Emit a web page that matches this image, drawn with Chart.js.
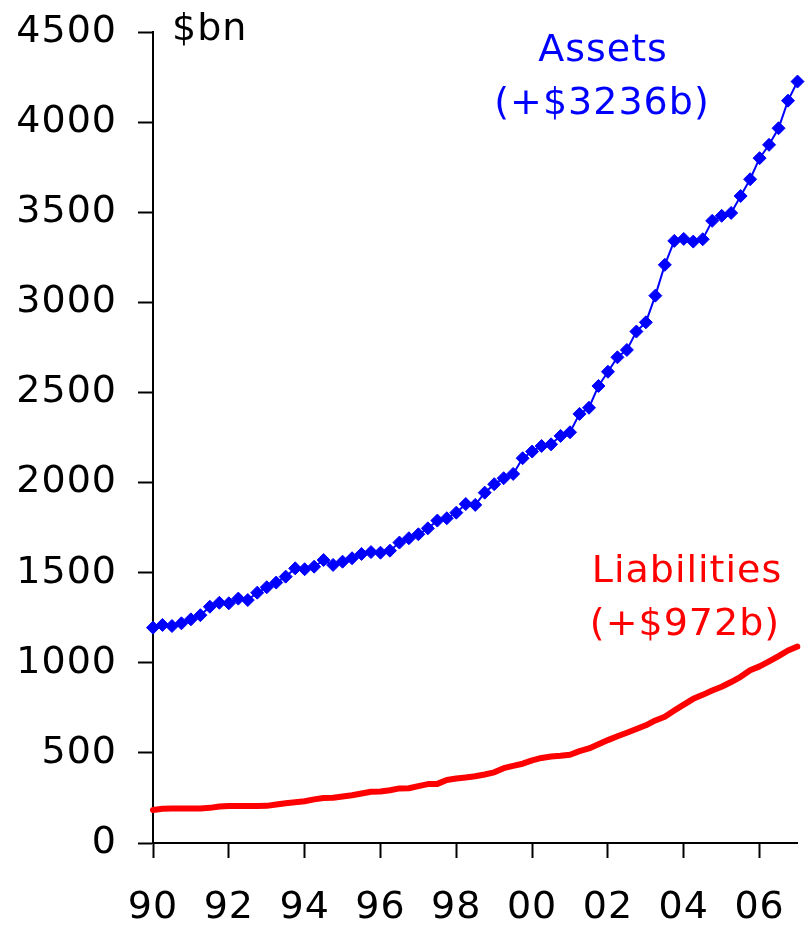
<!DOCTYPE html>
<html>
<head>
<meta charset="utf-8">
<script src="https://cdn.jsdelivr.net/npm/chart.js@4/dist/chart.umd.min.js"></script>
<style>
  html, body { margin: 0; padding: 0; background: #ffffff; }
  canvas { display: block; }
</style>
</head>
<body>
<canvas id="chart" width="805" height="926"></canvas>
<script>
// Quarterly balance sheet, 1990 Q1 – 2007 Q1, $bn
const years = [1990, 1991, 1992, 1993, 1994, 1995, 1996, 1997, 1998,
               1999, 2000, 2001, 2002, 2003, 2004, 2005, 2006, 2007];
const quarterNames = ['Q1', 'Q2', 'Q3', 'Q4'];

const assets = [
  1195, 1210, 1204, 1219, 1241, 1264, 1311, 1333,
  1330, 1356, 1348, 1389, 1419, 1445, 1478, 1524,
  1519, 1533, 1570, 1543, 1561, 1580, 1604, 1614,
  1611, 1622, 1667, 1691, 1713, 1746, 1789, 1802,
  1833, 1881, 1876, 1944, 1991, 2024, 2048, 2135,
  2172, 2203, 2212, 2259, 2279, 2381, 2415, 2536,
  2615, 2695, 2736, 2838, 2889, 3037, 3208, 3341,
  3352, 3337, 3350, 3452, 3480, 3496, 3590, 3683,
  3800, 3874, 3966, 4119, 4225
];

const liabilities = [
  183, 190, 191, 191, 192, 192, 195, 203,
  205, 205, 205, 205, 206, 214, 221, 226,
  232, 242, 250, 251, 258, 265, 275, 284,
  286, 293, 303, 304, 316, 327, 328, 350,
  358, 364, 370, 380, 392, 415, 428, 440,
  458, 472, 480, 484, 490, 510, 525, 548,
  571, 592, 612, 633, 653, 680, 701, 735,
  768, 800, 822, 846, 867, 893, 922, 958,
  980, 1008, 1037, 1068, 1090
];

const xTickLabels = ['90', '92', '94', '96', '98', '00', '02', '04', '06'];
const yTicks = { min: 0, max: 4500, step: 500 };

const quarterLabels = years
  .flatMap(y => quarterNames.map(q => y + ' ' + q))
  .slice(0, assets.length);

const FONT = 'DejaVu Sans';
const FONT_SIZE = 38;
const SPACING = '1px';

// Slightly wider tracking for all canvas text
const tracking = {
  id: 'tracking',
  beforeUpdate(chart) { chart.ctx.letterSpacing = SPACING; },
  beforeDraw(chart) { chart.ctx.letterSpacing = SPACING; }
};

// Unit caption and series captions
const captions = {
  id: 'captions',
  afterDraw(chart) {
    const ctx = chart.ctx;
    ctx.save();
    ctx.letterSpacing = SPACING;
    ctx.font = FONT_SIZE + 'px "' + FONT + '"';
    ctx.textBaseline = 'middle';

    ctx.fillStyle = '#000000';
    ctx.textAlign = 'left';
    ctx.fillText('$bn', 172, 30);

    ctx.textAlign = 'center';
    ctx.fillStyle = '#0000ff';
    ctx.fillText('Assets', 603, 51);
    ctx.fillText('(+$3236b)', 602, 104);

    ctx.fillStyle = '#ff0000';
    ctx.fillText('Liabilities', 687, 572);
    ctx.fillText('(+$972b)', 685, 625);
    ctx.restore();
  }
};

new Chart(document.getElementById('chart'), {
  type: 'line',
  data: {
    labels: quarterLabels,
    datasets: [
      {
        label: 'Liabilities',
        data: liabilities,
        borderColor: '#ff0000',
        borderWidth: 6,
        pointRadius: 0,
        tension: 0,
        borderJoinStyle: 'round',
        borderCapStyle: 'round',
        fill: false
      },
      {
        label: 'Assets',
        data: assets,
        borderColor: '#0000ff',
        backgroundColor: '#0000ff',
        borderWidth: 2,
        pointStyle: 'rectRot',
        pointRadius: 6.5,
        pointBorderWidth: 1,
        pointBackgroundColor: '#0000ff',
        pointBorderColor: '#0000ff',
        tension: 0,
        fill: false
      }
    ]
  },
  options: {
    responsive: false,
    animation: false,
    devicePixelRatio: 1,
    layout: { padding: { top: 32, right: 3, bottom: 0, left: 0 } },
    plugins: {
      legend: { display: false },
      tooltip: { enabled: false }
    },
    scales: {
      x: {
        type: 'category',
        offset: false,
        grid: {
          drawOnChartArea: false,
          drawTicks: true,
          tickLength: 15,
          tickWidth: 2,
          tickColor: c => (c.index % 8 === 0 ? '#000000' : 'rgba(0,0,0,0)')
        },
        border: { display: true, color: '#000000', width: 2 },
        ticks: {
          autoSkip: false,
          maxRotation: 0,
          minRotation: 0,
          padding: 27,
          color: '#000000',
          font: { family: FONT, size: FONT_SIZE },
          callback: (v, i) => (i % 8 === 0 ? xTickLabels[i / 8] : '')
        },
        afterFit: s => {
          s.height = 83;
          s.paddingLeft = 0;
          s.paddingRight = 0;
        }
      },
      y: {
        min: yTicks.min,
        max: yTicks.max,
        grid: {
          drawOnChartArea: false,
          drawTicks: true,
          tickLength: 15,
          tickWidth: 2,
          tickColor: '#000000'
        },
        border: { display: true, color: '#000000', width: 2 },
        ticks: {
          stepSize: yTicks.step,
          padding: 21,
          color: '#000000',
          font: { family: FONT, size: FONT_SIZE },
          callback: v => String(v)
        },
        afterFit: s => {
          s.width = 153;
          s.paddingTop = 0;
          s.paddingBottom = 0;
        }
      }
    }
  },
  plugins: [tracking, captions]
});
</script>
</body>
</html>
